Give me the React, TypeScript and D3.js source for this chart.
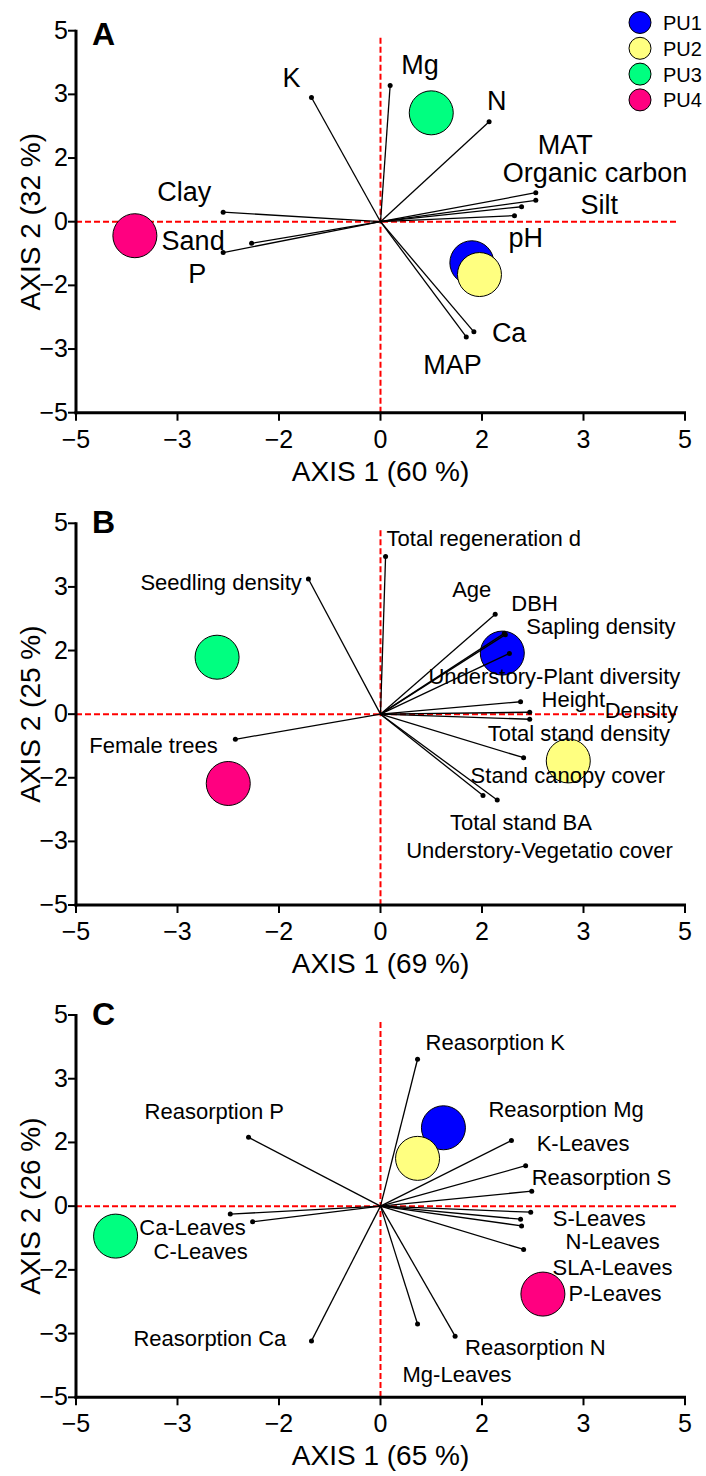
import React from "react";
import * as d3 from "d3";

// ---------- shared ----------
const tickValues = [-5, -3, -2, 0, 2, 3, 5];
const tickLabels = ["−5", "−3", "−2", "0", "2", "3", "5"];
const groups = ["PU1", "PU2", "PU3", "PU4"];
const groupColors = ["#0000ff", "#ffff80", "#00ff80", "#ff0080"];

// ---------- Panel A ----------
const aVariables = ["K", "Mg", "N", "MAT", "Organic carbon", "Silt", "pH", "Ca", "MAP", "Clay", "Sand", "P"];
const aLoadX = [-1.36, 0.19, 2.07, 2.53, 2.53, 2.39, 2.32, 1.84, 1.69, -2.55, -2.27, -2.55];
const aLoadY = [2.95, 3.28, 2.57, 0.91, 0.67, 0.47, 0.19, -2.73, -2.81, 0.3, -0.68, -0.97];
const aScoreX = [1.8, 1.95, 1.0, -3.84];
const aScoreY = [-1.29, -1.66, 2.71, -0.44];
const aAxis1 = "AXIS 1 (60 %)";
const aAxis2 = "AXIS 2 (32 %)";

// ---------- Panel B ----------
const bVariables = [
  "Total regeneration d", "Seedling density", "Age", "DBH", "Sapling density",
  "Understory-Plant diversity", "Height", "Density", "Total stand density",
  "Stand canopy cover", "Total stand BA", "Understory-Vegetatio cover", "Female trees",
];
const bLoadX = [0.1, -1.42, 2.13, 2.22, 2.23, 2.27, 2.38, 2.47, 2.47, 2.41, 2.01, 2.15, -2.43];
const bLoadY = [3.96, 3.25, 2.57, 2.27, 2.25, 1.91, 0.39, 0.06, -0.16, -1.37, -2.28, -2.35, -0.79];
const bScoreX = [2.2, 2.85, -2.61, -2.5];
const bScoreY = [1.92, -1.47, 1.79, -2.09];
const bAxis1 = "AXIS 1 (69 %)";
const bAxis2 = "AXIS 2 (25 %)";

// ---------- Panel C ----------
const cVariables = [
  "Reasorption K", "Reasorption Mg", "K-Leaves", "Reasorption S", "S-Leaves", "N-Leaves",
  "SLA-Leaves", "P-Leaves", "Mg-Leaves", "Reasorption N", "Reasorption P", "Ca-Leaves",
  "C-Leaves", "Reasorption Ca",
];
const cLoadX = [0.73, 2.29, 2.43, 2.49, 2.48, 2.38, 2.39, 2.41, 0.73, 1.47, -2.3, -2.48, -2.26, -1.36];
const cLoadY = [3.61, 2.03, 1.27, 0.47, -0.19, -0.41, -0.62, -1.36, -2.85, -3.08, 2.08, -0.25, -0.49, -3.23];
const cScoreX = [1.24, 0.73, -4.22, 2.6];
const cScoreY = [2.23, 1.5, -0.94, -2.38];
const cAxis1 = "AXIS 1 (65 %)";
const cAxis2 = "AXIS 2 (26 %)";

// ---------- layout (label offsets in px from vector tips) ----------
const aLabelOffsets = [[-29, -11], [11, -11], [-2, -12], [2, -39], [-33, -18], [59, 7], [-6, 31], [18, 10], [-43, 37], [-66, -11], [-90, 7], [-35, 30]];
const bLabelOffsets = [[1, -10], [-168, 11], [-43, -17], [7, -22], [21, -1], [-81, 31], [21, 5], [75, 6], [-42, 22], [-53, 25], [-33, 34], [-91, 58], [-146, 14]];
const cLabelOffsets = [[8, -9], [-23, -24], [11, -15], [0, -6], [22, 14], [45, 30], [31, 49], [45, 52], [-15, 58], [10, 19], [-104, -18], [-91, 21], [-99, 37], [-178, 5]];

const FONT = "'Liberation Sans', Arial, Helvetica, sans-serif";
const X0 = 76;
const X1 = 685;

type PanelProps = {
  letter: string;
  letterY: number;
  yBottom: number;
  yTop: number;
  variables: string[];
  loadX: number[];
  loadY: number[];
  scoreX: number[];
  scoreY: number[];
  offsets: number[][];
  labelSize: number;
  axis1: string;
  axis2: string;
};

function Panel(p: PanelProps) {
  const n = tickValues.length - 1;
  const x = d3.scaleLinear().domain(tickValues).range(tickValues.map((_, i) => X0 + (i * (X1 - X0)) / n));
  const y = d3.scaleLinear().domain(tickValues).range(tickValues.map((_, i) => p.yBottom - (i * (p.yBottom - p.yTop)) / n));
  const ox = x(0);
  const oy = y(0);
  return (
    <g fontFamily={FONT}>
      {/* reference dashed lines */}
      <line x1={X0} x2={X1 - 7} y1={oy} y2={oy} stroke="#ff0000" strokeWidth={2} strokeDasharray="6,3" />
      <line x1={ox} x2={ox} y1={p.yTop + 7} y2={p.yBottom} stroke="#ff0000" strokeWidth={2} strokeDasharray="6,3" />
      {/* group scores */}
      {groups.map((g, i) => (
        <circle key={g} cx={x(p.scoreX[i])} cy={y(p.scoreY[i])} r={22} fill={groupColors[i]} stroke="#000" strokeWidth={1} />
      ))}
      {/* loading vectors */}
      {p.variables.map((v, i) => (
        <g key={v}>
          <line x1={ox} y1={oy} x2={x(p.loadX[i])} y2={y(p.loadY[i])} stroke="#000" strokeWidth={1.3} />
          <circle cx={x(p.loadX[i])} cy={y(p.loadY[i])} r={2.5} fill="#000" />
        </g>
      ))}
      {p.variables.map((v, i) => (
        <text key={v} x={x(p.loadX[i]) + p.offsets[i][0]} y={y(p.loadY[i]) + p.offsets[i][1]} fontSize={p.labelSize} fill="#000">
          {v}
        </text>
      ))}
      {/* axes */}
      <line x1={X0} x2={X0} y1={p.yTop - 1} y2={p.yBottom + 1.5} stroke="#000" strokeWidth={3} />
      <line x1={X0 - 1.5} x2={X1 + 1} y1={p.yBottom} y2={p.yBottom} stroke="#000" strokeWidth={3} />
      {tickValues.map((t, i) => (
        <g key={"x" + t}>
          <line x1={x(t)} x2={x(t)} y1={p.yBottom} y2={p.yBottom + 8} stroke="#000" strokeWidth={2} />
          <text x={x(t)} y={p.yBottom + 35} fontSize={25} textAnchor="middle">
            {tickLabels[i]}
          </text>
        </g>
      ))}
      {tickValues.map((t, i) => (
        <g key={"y" + t}>
          <line x1={X0 - 8} x2={X0} y1={y(t)} y2={y(t)} stroke="#000" strokeWidth={2} />
          <text x={68} y={y(t) + 8} fontSize={25} textAnchor="end">
            {tickLabels[i]}
          </text>
        </g>
      ))}
      <text x={(X0 + X1) / 2} y={p.yBottom + 68} fontSize={28} textAnchor="middle">
        {p.axis1}
      </text>
      <text transform={`translate(40,${(p.yTop + p.yBottom) / 2}) rotate(-90)`} fontSize={28} textAnchor="middle">
        {p.axis2}
      </text>
      <text x={92} y={p.letterY} fontSize={32} fontWeight="bold">
        {p.letter}
      </text>
    </g>
  );
}

export default function App() {
  return (
    <svg width={706} height={1476} style={{ position: "absolute", left: 0, top: 0, background: "#fff" }}>
      <rect width={706} height={1476} fill="#fff" />
      <Panel letter="A" letterY={44.5} yBottom={412.7} yTop={30.7} variables={aVariables} loadX={aLoadX} loadY={aLoadY}
        scoreX={aScoreX} scoreY={aScoreY} offsets={aLabelOffsets} labelSize={27} axis1={aAxis1} axis2={aAxis2} />
      <Panel letter="B" letterY={533.3} yBottom={905} yTop={523.3} variables={bVariables} loadX={bLoadX} loadY={bLoadY}
        scoreX={bScoreX} scoreY={bScoreY} offsets={bLabelOffsets} labelSize={22} axis1={bAxis1} axis2={bAxis2} />
      <Panel letter="C" letterY={1025} yBottom={1397.3} yTop={1015} variables={cVariables} loadX={cLoadX} loadY={cLoadY}
        scoreX={cScoreX} scoreY={cScoreY} offsets={cLabelOffsets} labelSize={22} axis1={cAxis1} axis2={cAxis2} />
      {/* legend */}
      <g fontFamily={FONT}>
        {groups.map((g, i) => (
          <g key={g}>
            <circle cx={640} cy={22.5 + i * 25.8} r={11} fill={groupColors[i]} stroke="#000" strokeWidth={1} />
            <text x={663} y={22.5 + i * 25.8 + 7.5} fontSize={20}>
              {g}
            </text>
          </g>
        ))}
      </g>
    </svg>
  );
}
